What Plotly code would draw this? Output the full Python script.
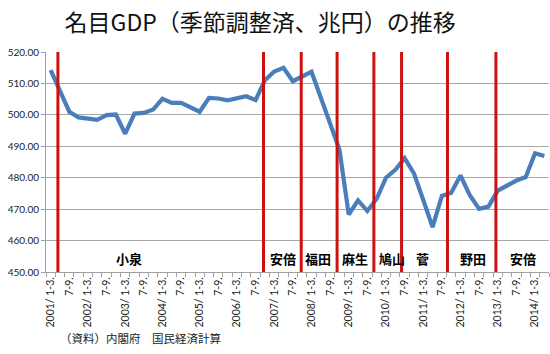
import plotly.graph_objects as go

# Quarterly nominal GDP (trillion yen, seasonally adjusted), 2001 Q1 .. 2014 Q2
years = list(range(2001, 2015))
gdp = [514.2, 507.8, 501.0, 499.2, 498.9, 498.4, 499.9, 500.1, 494.0, 500.4,
       500.6, 501.7, 505.1, 503.8, 503.8, 502.3, 501.0, 505.4, 505.2, 504.6,
       505.4, 505.9, 504.7, 511.0, 513.8, 515.0, 510.7, 512.3, 513.7, 505.5,
       497.5, 489.0, 468.3, 472.8, 469.4, 473.3, 480.0, 482.5, 486.2, 481.4,
       472.9, 464.3, 474.2, 475.2, 480.7, 474.4, 470.1, 470.8, 475.9, 477.6,
       479.1, 480.2, 487.8, 486.9]

# Cabinet changes (position on the quarter axis) and PM name labels
change_pos = [0.78, 22.85, 26.9, 30.75, 34.7, 37.67, 42.6, 47.8]
pm_names = ["小泉", "安倍", "福田", "麻生", "鳩山", "菅", "野田", "安倍"]
pm_label_pos = [8.4, 24.95, 28.7, 32.65, 36.6, 39.95, 45.3, 50.7]

y_ticks = [450, 460, 470, 480, 490, 500, 510, 520]

quarter_names = ["1-3.", "4-6.", "7-9.", "10-12."]
n = len(gdp)
x_idx = list(range(n))
tick_vals, tick_text = [], []
for i in range(n):
    q = i % 4
    yr = years[i // 4]
    if q == 0:
        tick_vals.append(i)
        tick_text.append(f"{yr}/ {quarter_names[0]}")
    elif q == 2:
        tick_vals.append(i)
        tick_text.append(quarter_names[2])

FONT = "Lato, 'Noto Sans CJK JP', sans-serif"
CJK = "'Noto Sans CJK JP', sans-serif"

fig = go.Figure()
fig.add_trace(go.Scatter(
    x=x_idx, y=gdp, mode="lines",
    line=dict(color="#4A7EBB", width=4.2),
    hoverinfo="skip", showlegend=False,
))

for p in change_pos:
    fig.add_shape(type="line", xref="x", yref="paper", x0=p, x1=p, y0=0, y1=1,
                  line=dict(color="#CC1111", width=3), layer="above")

for name, p in zip(pm_names, pm_label_pos):
    fig.add_annotation(x=p, y=454.2, xref="x", yref="y", text=f"<b>{name}</b>",
                       showarrow=False, font=dict(family=CJK, size=13, color="#000000"))

fig.add_annotation(x=0.024, y=-0.3, xref="paper", yref="paper",
                   text="（資料）内閣府　国民経済計算", showarrow=False,
                   xanchor="left", yanchor="middle",
                   font=dict(family=CJK, size=11.5, color="#222222"))

fig.update_layout(
    width=550, height=354,
    margin=dict(l=46, r=1, t=52, b=82),
    paper_bgcolor="white", plot_bgcolor="white",
    title=dict(text="名目GDP（季節調整済、兆円）の推移", x=0.473, xanchor="center",
               y=0.934, yanchor="middle",
               font=dict(family=CJK, size=23, color="#111111")),
    xaxis=dict(
        range=[-0.5, n - 0.5], tickmode="array", tickvals=tick_vals, ticktext=tick_text,
        tickangle=-90, ticks="", showgrid=False, zeroline=False,
        showline=True, linecolor="#A0A0A0", linewidth=1,
        tickfont=dict(family=FONT, size=10.5, color="#222222"),
        minor=dict(tickmode="array", tickvals=[i - 0.5 for i in range(n + 1)],
                   ticks="outside", ticklen=4, tickcolor="#A0A0A0", showgrid=False),
    ),
    yaxis=dict(
        range=[450, 520], tickmode="array", tickvals=y_ticks,
        ticktext=[f"{v:.2f}" for v in y_ticks],
        showgrid=True, gridcolor="#A8A8A8", gridwidth=1, zeroline=False,
        showline=True, linecolor="#A0A0A0", linewidth=1,
        ticks="outside", ticklen=4, tickcolor="#A0A0A0",
        tickfont=dict(family=FONT, size=10, color="#222222"),
    ),
)

fig.write_html("out.html")
